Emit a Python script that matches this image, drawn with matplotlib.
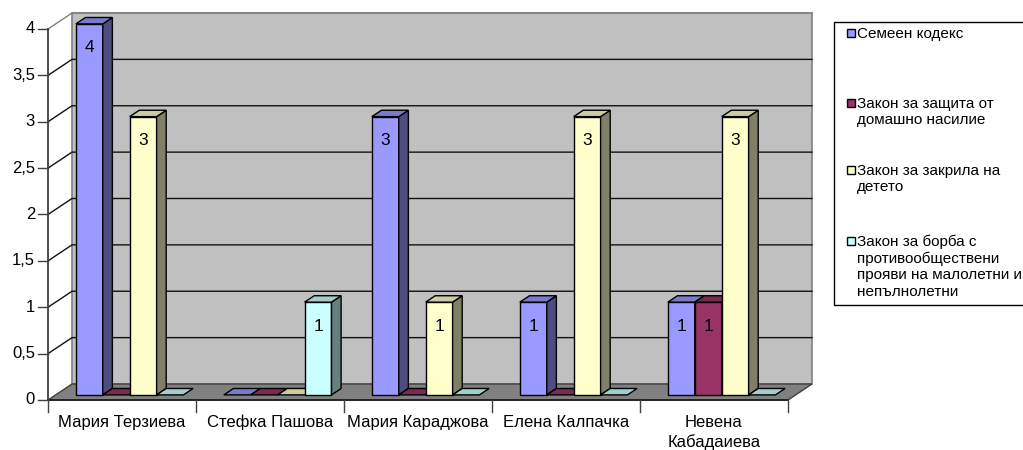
import matplotlib
matplotlib.use("Agg")
import matplotlib.pyplot as plt
from matplotlib.patches import Polygon, Rectangle

plt.rcParams['font.family'] = ['Liberation Sans', 'DejaVu Sans']

# ---- data ----
categories = ["Мария Терзиева", "Стефка Пашова", "Мария Караджова",
              "Елена Калпачка", "Невена\nКабадаиева"]
series_names = ["Семеен кодекс",
                "Закон за защита от\nдомашно насилие",
                "Закон за закрила на\nдетето",
                "Закон за борба с\nпротивообществени\nпрояви на малолетни и\nнепълнолетни"]
semeen = [4, 0, 3, 1, 1]
nasilie = [0, 0, 0, 0, 1]
zakrila = [3, 0, 1, 3, 3]
borba = [0, 1, 0, 0, 0]
series_values = [semeen, nasilie, zakrila, borba]
y_ticks = [0, 0.5, 1, 1.5, 2, 2.5, 3, 3.5, 4]
y_ticklabels = ["0", "0,5", "1", "1,5", "2", "2,5", "3", "3,5", "4"]

# ---- styles ----
front_c = ['#9999FF', '#993366', '#FFFFCC', '#CCFFFF']
side_c = ['#4D4D80', '#4D1A33', '#808066', '#668080']
top_c = ['#7A7ACC', '#7A2952', '#CCCCA3', '#A3CCCC']

W, H = 1023, 450
fig = plt.figure(figsize=(W / 100, H / 100), dpi=100)
ax = fig.add_axes([0, 0, 1, 1])
ax.set_axis_off()

PX_CAT = 148.0     # pixels per category
PX_VAL = 92.75     # pixels per value unit
X0_PX = 48.0       # front left of plot
Y0_PX = 400.0      # front zero line (from top)
ax.set_xlim(-X0_PX / PX_CAT, (W - X0_PX) / PX_CAT)
ax.set_ylim(-(H - Y0_PX) / PX_VAL, Y0_PX / PX_VAL)

DEP_X = 24 / PX_CAT
DEP_Y = 16 / PX_VAL
ncat = len(categories)
vmax = y_ticks[-1]


def P(x, v, d):
    return (x + d * DEP_X, v + d * DEP_Y)


# back wall
ax.add_patch(Polygon([P(0, 0, 1), P(ncat, 0, 1), P(ncat, vmax, 1), P(0, vmax, 1)],
                     closed=True, facecolor='#C0C0C0', edgecolor='#808080', lw=1.2, zorder=1))
# gridlines
for v in y_ticks[1:]:
    col = '#808080' if v == vmax else '#111111'
    xs, ys = zip(P(0, v, 0), P(0, v, 1), P(ncat, v, 1))
    ax.plot(xs, ys, color=col, lw=1.0, zorder=2)
# floor
ax.add_patch(Polygon([P(0, 0, 0), P(ncat, 0, 0), P(ncat, 0, 1), P(0, 0, 1)],
                     closed=True, facecolor='#808080', edgecolor='#404040', lw=1.0, zorder=2))
xs, ys = zip(P(0, 0, 0), P(ncat, 0, 0))
ax.plot(xs, ys, color='#202020', lw=1.3, zorder=3)
# left axis
xs, ys = zip(P(0, 0, 0), P(0, vmax, 0))
ax.plot(xs, ys, color='#404040', lw=1.3, zorder=3)
tick_len = 10 / PX_CAT
for v, lab in zip(y_ticks, y_ticklabels):
    ax.plot([-tick_len, 0], [v, v], color='#404040', lw=1.0, zorder=3)
    ax.text(-tick_len - 3 / PX_CAT, v, lab, ha='right', va='center', fontsize=12, color='#000000')
# category ticks & labels
for i in range(ncat + 1):
    ax.plot([i, i], [0, -12 / PX_VAL], color='#404040', lw=1.0, zorder=3)
for i, lab in enumerate(categories):
    ax.text(i + 0.5, -15 / PX_VAL, lab, ha='center', va='top', fontsize=12,
            linespacing=1.3, color='#000000')

# bars
nser = len(series_values)
bw = 1.0 / (nser + 1.5)
off = 0.75 * bw
f1, f2 = 0.32, 0.72
for i in range(ncat):
    for s in range(nser):
        v = series_values[s][i]
        xa = i + off + s * bw
        xb = xa + bw
        z = 4 + i * 0.1 + s * 0.01
        if v > 0:
            ax.add_patch(Polygon([P(xa, 0, f1), P(xb, 0, f1), P(xb, v, f1), P(xa, v, f1)],
                                 closed=True, facecolor=front_c[s], edgecolor='black', lw=1.0, zorder=z))
            ax.add_patch(Polygon([P(xb, 0, f1), P(xb, 0, f2), P(xb, v, f2), P(xb, v, f1)],
                                 closed=True, facecolor=side_c[s], edgecolor='black', lw=1.0, zorder=z))
        ax.add_patch(Polygon([P(xa, v, f1), P(xb, v, f1), P(xb, v, f2), P(xa, v, f2)],
                             closed=True, facecolor=top_c[s], edgecolor='black', lw=1.0, zorder=z))
        if v > 0:
            cx, cy = P((xa + xb) / 2, v, f1)
            ax.text(cx, cy - 24 / PX_VAL, str(v), ha='center', va='center', fontsize=12.5,
                    color='black', zorder=z + 0.005)

# legend (manual, partially cut at the right edge like the reference)
def fx(px):
    return px / W


def fy(py):
    return 1 - py / H


fig.patches.append(Rectangle((fx(834), fy(305)), fx(1030) - fx(834), fy(22) - fy(305),
                             transform=fig.transFigure, facecolor='white', edgecolor='black',
                             lw=1.0, zorder=10))
leg_tops = [33, 103, 170, 241]
for s, name in enumerate(series_names):
    yc = leg_tops[s]
    fig.patches.append(Rectangle((fx(847), fy(yc + 4)), fx(8), 8 / H, transform=fig.transFigure,
                                 facecolor=front_c[s], edgecolor='black', lw=1.0, zorder=11))
    fig.text(fx(857), fy(yc - 6), name, ha='left', va='top', fontsize=11,
             linespacing=1.2, color='black', zorder=12)

fig.savefig("out.png", dpi=100)
